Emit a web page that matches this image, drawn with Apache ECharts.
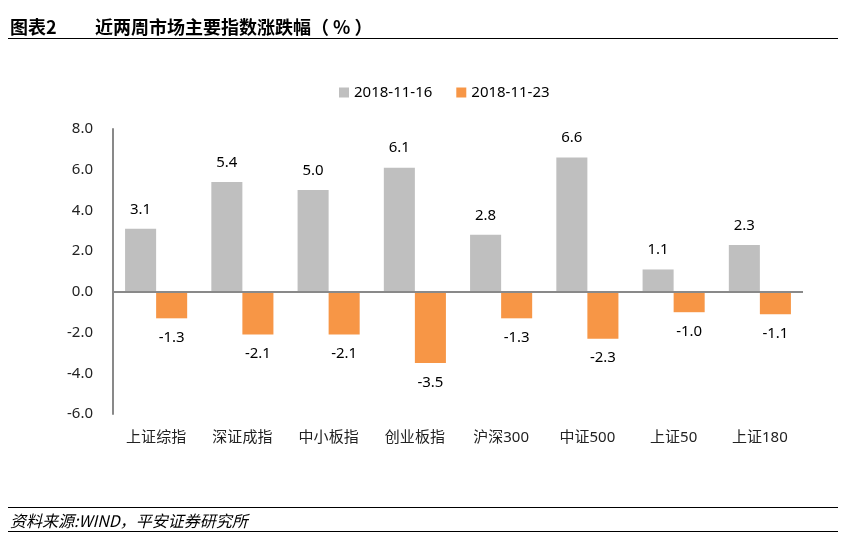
<!DOCTYPE html>
<html>
<head>
<meta charset="utf-8">
<script src="https://cdn.jsdelivr.net/npm/echarts@6/dist/echarts.min.js"></script>
<style>
  html, body { margin: 0; padding: 0; background: #fff; }
  #wrap { position: relative; width: 842px; height: 536px; font-family: "Noto Sans CJK SC", sans-serif; }
  #chart { position: absolute; left: 0; top: 0; width: 842px; height: 536px; }
  .title { position: absolute; top: 13px; font-size: 18px; font-weight: bold; color: #000; white-space: nowrap; }
  .line { position: absolute; left: 8px; width: 830px; height: 1px; background: #000; }
  .source { position: absolute; left: 10px; top: 508px; font-size: 16px; font-style: italic; color: #000; }
</style>
</head>
<body>
<div id="wrap">
  <div id="chart"></div>
  <div class="title" style="left:10px">图表2</div>
  <div class="title" style="left:95px">近两周市场主要指数涨跌幅（ % ）</div>
  <div class="line" style="top:38px"></div>
  <div class="line" style="top:507px"></div>
  <div class="source">资料来源:WIND，平安证券研究所</div>
  <div class="line" style="top:531px"></div>
</div>
<script>
// 数据
var categories = ["上证综指", "深证成指", "中小板指", "创业板指", "沪深300", "中证500", "上证50", "上证180"];
var seriesNames = ["2018-11-16", "2018-11-23"];
var week1 = [3.1, 5.4, 5.0, 6.1, 2.8, 6.6, 1.1, 2.3];
var week2 = [-1.3, -2.1, -2.1, -3.5, -1.3, -2.3, -1.0, -1.1];

var chart = echarts.init(document.getElementById("chart"));
var font = '"Noto Sans", "Noto Sans CJK SC", sans-serif';
var option = {
  animation: false,
  textStyle: { fontFamily: font },
  legend: {
    top: 80,
    left: 334,
    itemWidth: 10,
    itemHeight: 10,
    itemGap: 24,
    icon: "rect",
    textStyle: { fontSize: 15, color: "#000", fontFamily: font },
    data: seriesNames,
  },
  grid: { left: 113, right: 39, top: 129, bottom: 122 },
  xAxis: {
    type: "category",
    data: categories,
    axisLine: { show: false, onZero: false },
    axisTick: { show: false },
    axisLabel: { fontSize: 15, color: "#222", margin: 16, fontFamily: font },
  },
  yAxis: {
    type: "value",
    min: -6,
    max: 8,
    interval: 2,
    axisLine: { show: true, lineStyle: { color: "#898989", width: 2 } },
    axisTick: { show: false },
    splitLine: { show: false },
    axisLabel: {
      fontSize: 15,
      color: "#222",
      margin: 20,
      fontFamily: font,
      formatter: function (v) { return v.toFixed(1); },
    },
  },
  series: [
    {
      name: seriesNames[0],
      type: "bar",
      data: week1,
      barWidth: "36%",
      barGap: "0%",
      itemStyle: { color: "#BFBFBF" },
      label: {
        show: true,
        position: "top",
        distance: 12,
        fontSize: 15,
        color: "#000",
        fontFamily: font,
        formatter: function (p) { return p.value.toFixed(1); },
      },
      markLine: {
        silent: true,
        symbol: "none",
        label: { show: false },
        lineStyle: { color: "#898989", width: 2, type: "solid" },
        data: [{ yAxis: 0 }],
      },
    },
    {
      name: seriesNames[1],
      type: "bar",
      data: week2,
      barWidth: "36%",
      barGap: "0%",
      itemStyle: { color: "#F79646" },
      label: {
        show: true,
        position: "bottom",
        distance: 12,
        fontSize: 15,
        color: "#000",
        fontFamily: font,
        formatter: function (p) { return p.value.toFixed(1); },
      },
    },
  ],
};
chart.setOption(option);
</script>
</body>
</html>
